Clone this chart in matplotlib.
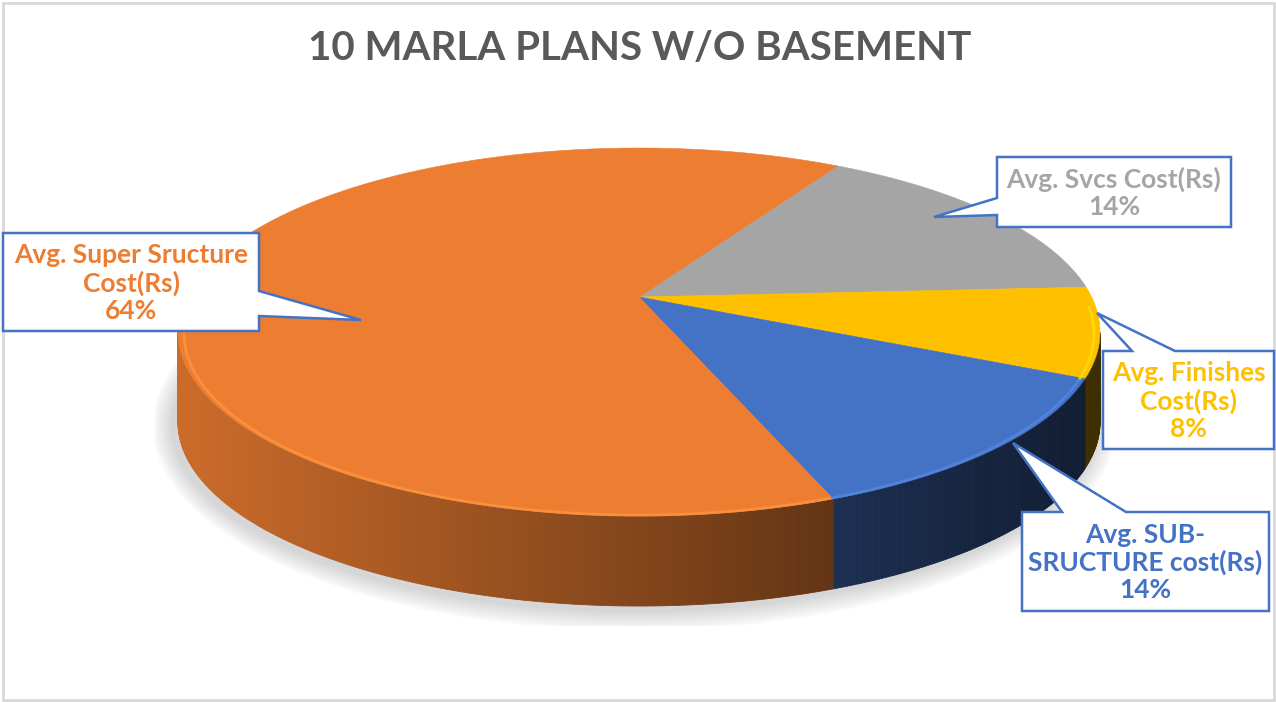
import numpy as np
import matplotlib
matplotlib.use("Agg")
import matplotlib.pyplot as plt
from matplotlib.collections import PolyCollection
from matplotlib.patches import Polygon, Rectangle, Ellipse
from matplotlib.colors import to_rgb

# ---- data (slice order: clockwise from the top-right boundary)
categories = ["Avg. Svcs Cost(Rs)", "Avg. Finishes\nCost(Rs)",
              "Avg. SUB-\nSRUCTURE cost(Rs)", "Avg. Super Sructure\nCost(Rs)"]
shares = [14, 8, 14, 64]
colors = ["#A5A5A5", "#FFC000", "#4472C4", "#ED7D31"]
title = "10 MARLA PLANS W/O BASEMENT"

W, H = 1276, 702
plt.rcParams['font.family'] = ['Lato', 'DejaVu Sans']

# ellipse of the top face, in pixels (VY = perspective shift of the apex)
CX, CY, RX, RY, DEPTH, VY = 639, 332, 461, 184, 90, 35

fig = plt.figure(figsize=(W / 100, H / 100), dpi=100)
fig.patch.set_facecolor("white")

xl, yt, yb = 1.05, 1.05, 1.6
left = CX - xl * RX
top = CY - yt * RY
hgt = (yt + yb) * RY
ax = fig.add_axes([left / W, (H - top - hgt) / H, 2 * xl * RX / W, hgt / H])

wedges, _ = ax.pie(shares, colors=colors, startangle=64.5, counterclock=False,
                   radius=1, wedgeprops=dict(linewidth=0))
ax.set_aspect('auto')
ax.set_xlim(-xl, xl)
ax.set_ylim(-yb, yt)
ax.axis('off')

d = DEPTH / RY
apex = (0, VY / RY)

# top face: same angles as the pie wedges, apex lifted for the 3D look
for w, c in zip(wedges, colors):
    w.set_visible(False)
    t = np.radians(np.linspace(w.theta1, w.theta2, 300))
    pts = [apex] + list(zip(np.cos(t), np.sin(t)))
    ax.add_patch(Polygon(pts, closed=True, fc=c, ec=c, lw=0.4, zorder=1))

# soft shadow under the disc
for e in np.linspace(0.045, 0.005, 8):
    ax.add_patch(Ellipse((-0.01, -d - 0.02), 2 * (1 + e), 2 * (1 + e * RX / RY),
                         facecolor="#808080", alpha=0.045, lw=0, zorder=0.1))

# side wall of the disc, shaded darker toward the right
polys, fcs = [], []
step = 0.5
for w, c in zip(wedges, colors):
    base = np.array(to_rgb(c))
    a = np.arange(w.theta1, w.theta2, step)
    a = np.append(a, w.theta2)
    for a0, a1 in zip(a[:-1], a[1:]):
        mid = np.radians((a0 + a1) / 2)
        if np.sin(mid) > 0:
            continue
        r0, r1 = np.radians(a0), np.radians(a1)
        polys.append([(np.cos(r0), np.sin(r0)), (np.cos(r1), np.sin(r1)),
                      (np.cos(r1), np.sin(r1) - d), (np.cos(r0), np.sin(r0) - d)])
        f = 0.86 - 0.31 * (np.cos(mid) + 1)
        fcs.append(np.clip(base * f, 0, 1))
ax.add_collection(PolyCollection(polys, facecolors=fcs, edgecolors=fcs,
                                 linewidths=0.6, zorder=0.5))

# light bevel along the front rim of the top face
for w, c in zip(wedges, colors):
    t = np.radians(np.linspace(w.theta1, w.theta2, 200))
    m = np.sin(t) < 0.15
    light = np.clip(np.array(to_rgb(c)) * 1.12 + 0.04, 0, 1)
    ax.plot(np.cos(t[m]) * 0.987, np.sin(t[m]) * 0.987 - 0.008, color=light,
            lw=2, alpha=0.75, zorder=2, solid_capstyle='butt')

# ---- overlay in pixel coordinates for title, frame and callouts
ov = fig.add_axes([0, 0, 1, 1], zorder=5)
ov.set_xlim(0, W)
ov.set_ylim(H, 0)
ov.axis('off')
ov.patch.set_alpha(0)

ov.add_patch(Rectangle((3, 3), W - 5, H - 5, fill=False, ec="#D9D9D9", lw=2))
ov.text(640, 48, title, ha='center', va='center', fontsize=29,
        fontweight='bold', color="#595959")

edge = "#4472C4"
# (box x0, y0, x1, y1), pointer side, base a, base b, tip
callouts = [
    ((997, 157, 1231, 227), 'left', 198, 215, (934, 217)),
    ((1103, 351, 1274, 449), 'top', 1132, 1175, (1097, 313)),
    ((1022, 512, 1269, 611), 'top', 1062, 1126, (1013, 443)),
    ((3, 233, 259, 331), 'right', 291, 316, (361, 320)),
]
for (x0, y0, x1, y1), side, ba, bb, tip, lab, s, c in zip(
        *zip(*callouts), categories, shares, colors):
    if side == 'left':
        pts = [(x0, y0), (x1, y0), (x1, y1), (x0, y1), (x0, bb), tip, (x0, ba)]
    elif side == 'right':
        pts = [(x0, y0), (x1, y0), (x1, ba), tip, (x1, bb), (x1, y1), (x0, y1)]
    else:
        pts = [(x0, y0), (ba, y0), tip, (bb, y0), (x1, y0), (x1, y1), (x0, y1)]
    ov.add_patch(Polygon(pts, closed=True, fc="white", ec=edge, lw=1.8,
                         joinstyle='miter'))
    ov.text((x0 + x1) / 2, (y0 + y1) / 2 + 1, f"{lab}\n{s:.0f}%", ha='center',
            va='center', fontsize=19, fontweight='bold', color=c,
            linespacing=1.15)

fig.savefig("out.png", dpi=100)
